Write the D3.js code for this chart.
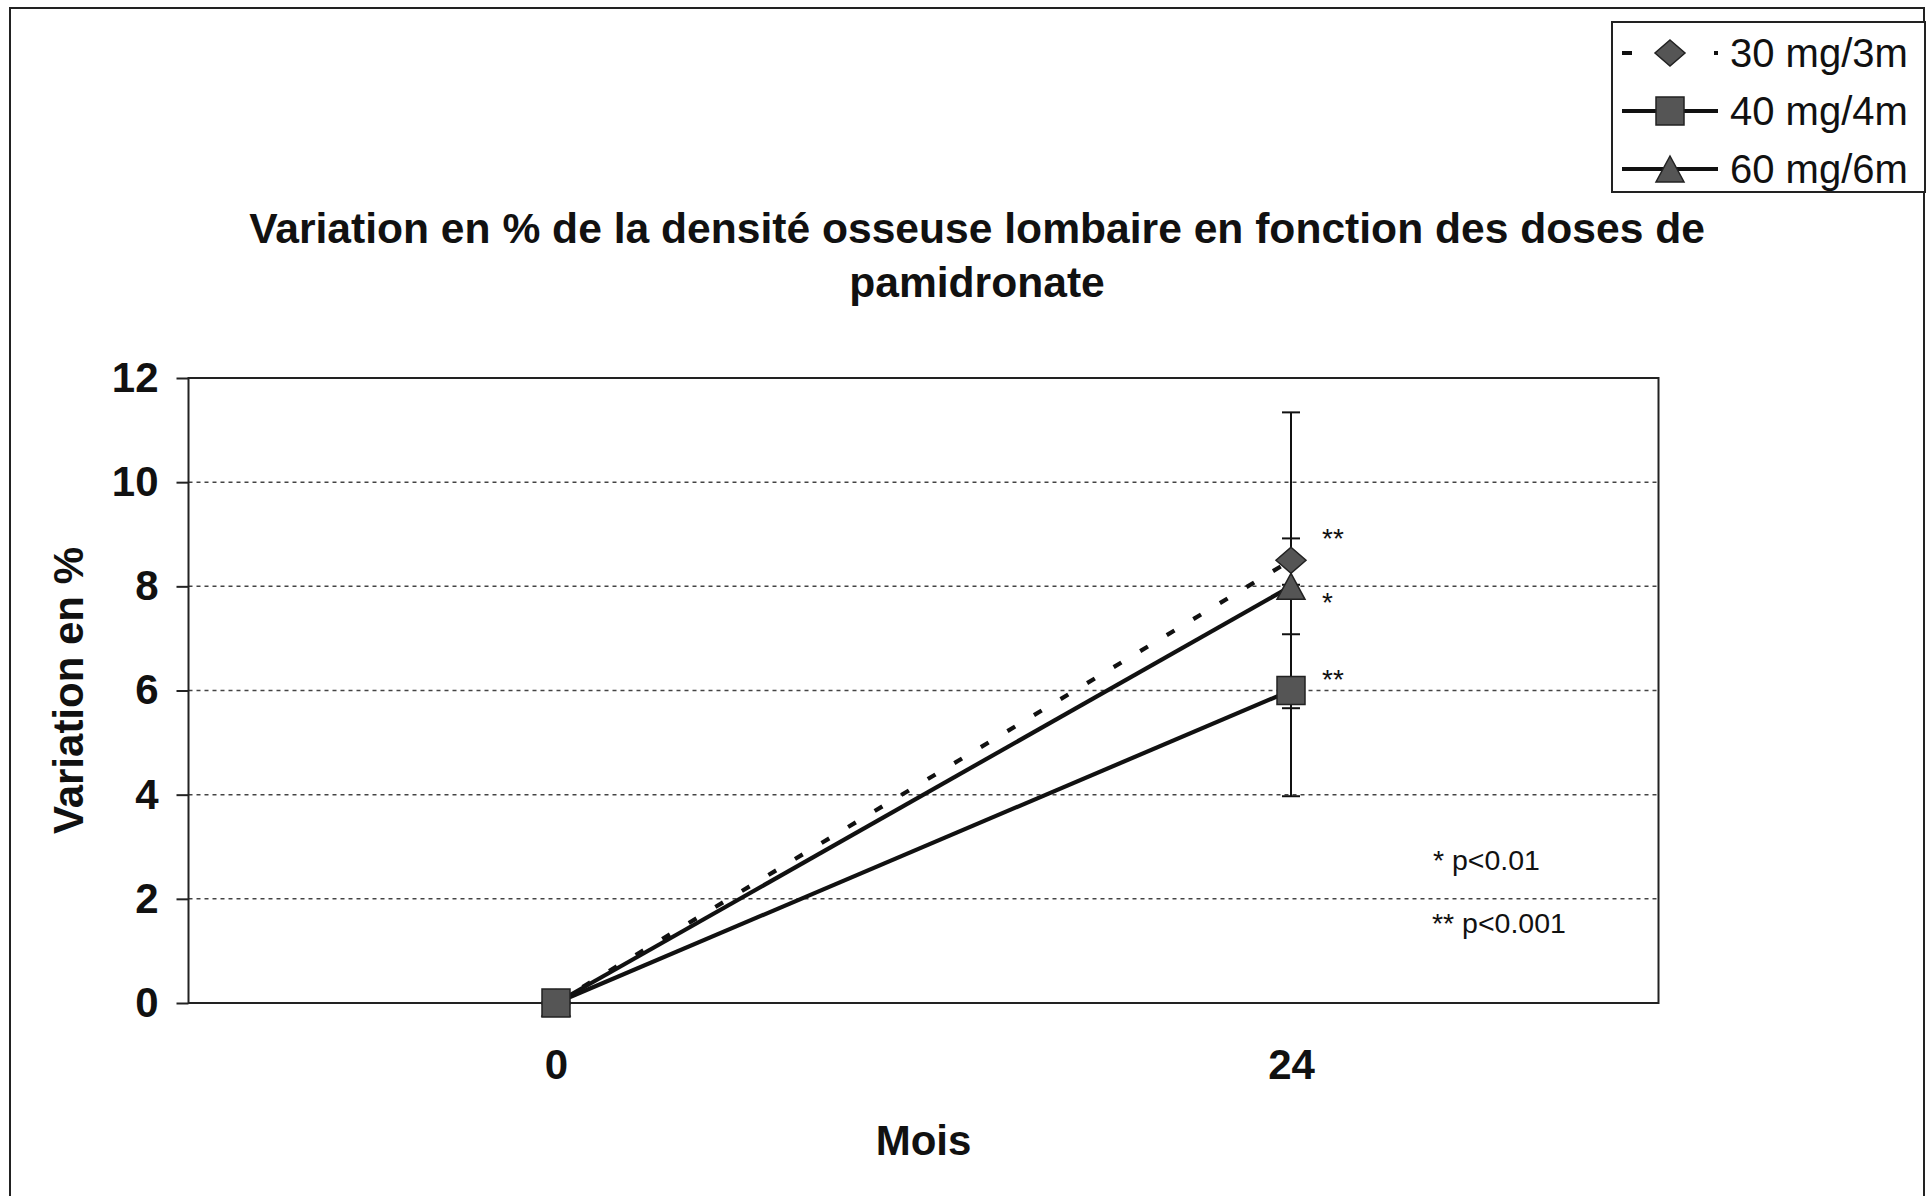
<!DOCTYPE html>
<html>
<head>
    <meta charset="utf-8" />
    <title>Variation densité osseuse</title>
    <style>
        body { margin: 0; background: #fff; overflow: hidden; }
        text { font-family: Arial, "Liberation Sans", sans-serif; fill: #111; }
    </style>
</head>
<body>
    <div id="chart"></div>
    <script src="https://cdn.jsdelivr.net/npm/d3@7/dist/d3.min.js"></script>
    <script>
        // données
        var mois = [0, 24];
        var series = ["30 mg/3m", "40 mg/4m", "60 mg/6m"];
        var v30 = [0, 8.5];
        var v40 = [0, 6.0];
        var v60 = [0, 8.0];
        var err30 = [0, 2.84];
        var err40 = [0, 2.03];
        var err60 = [0, 0.92];
        var yTicks = [0, 2, 4, 6, 8, 10, 12];
        var signif = ["**", "**", "*"];
        var sigVals = [8.74, 6.03, 7.51];
        var notes = ["* p<0.01", "** p<0.001"];

        var W = 1932, H = 1196;
        var pLeft = 188.5, pRight = 1658.5, pTop = 378, pBottom = 1003;

        var svg = d3.select("#chart").append("svg")
            .attr("width", W).attr("height", H);

        // cadre extérieur
        svg.append("rect")
            .attr("x", 10).attr("y", 8)
            .attr("width", 1914).attr("height", 1200)
            .attr("fill", "none").attr("stroke", "#222").attr("stroke-width", 2);

        var x = d3.scalePoint().domain(mois).range([pLeft, pRight]).padding(0.5);
        var y = d3.scaleLinear().domain([0, 12]).range([pBottom, pTop]);

        // grille pointillée
        svg.append("g").selectAll("line")
            .data(yTicks.filter(function (d) { return d > 0 && d < 12; }))
            .join("line")
            .attr("x1", pLeft).attr("x2", pRight)
            .attr("y1", function (d) { return y(d); })
            .attr("y2", function (d) { return y(d); })
            .attr("stroke", "#444").attr("stroke-width", 1.5)
            .attr("stroke-dasharray", "4,4");

        // cadre du graphique
        svg.append("rect")
            .attr("x", pLeft).attr("y", pTop)
            .attr("width", pRight - pLeft).attr("height", pBottom - pTop)
            .attr("fill", "none").attr("stroke", "#222").attr("stroke-width", 2);

        // axe Y
        var yAxis = svg.append("g")
            .attr("transform", "translate(" + pLeft + ",0)")
            .call(d3.axisLeft(y).tickValues(yTicks).tickSize(12).tickPadding(18));
        yAxis.select(".domain").remove();
        yAxis.selectAll("line").attr("stroke", "#222").attr("stroke-width", 2);
        yAxis.selectAll("text")
            .style("font-family", "Arial, 'Liberation Sans', sans-serif")
            .style("font-size", "42px").style("font-weight", "bold").attr("fill", "#111");

        // axe X
        var xAxis = svg.append("g")
            .attr("transform", "translate(0," + pBottom + ")")
            .call(d3.axisBottom(x).tickSize(0).tickPadding(46));
        xAxis.select(".domain").remove();
        xAxis.selectAll("text")
            .style("font-family", "Arial, 'Liberation Sans', sans-serif")
            .style("font-size", "42px").style("font-weight", "bold").attr("fill", "#111");

        // titres
        svg.append("text").attr("x", 977).attr("y", 243)
            .attr("text-anchor", "middle").style("font-size", "42.6px").style("font-weight", "bold")
            .text("Variation en % de la densité osseuse lombaire en fonction des doses de");
        svg.append("text").attr("x", 977).attr("y", 297)
            .attr("text-anchor", "middle").style("font-size", "42.6px").style("font-weight", "bold")
            .text("pamidronate");
        svg.append("text").attr("x", (pLeft + pRight) / 2).attr("y", 1155)
            .attr("text-anchor", "middle").style("font-size", "42px").style("font-weight", "bold")
            .text("Mois");
        svg.append("text")
            .attr("transform", "translate(83," + ((pTop + pBottom) / 2) + ") rotate(-90)")
            .attr("text-anchor", "middle").style("font-size", "42px").style("font-weight", "bold")
            .text("Variation en %");

        var data = [
            { name: series[0], vals: v30, err: err30, dash: "9,22", sym: "diamond" },
            { name: series[1], vals: v40, err: err40, dash: null, sym: "square" },
            { name: series[2], vals: v60, err: err60, dash: null, sym: "triangle" }
        ];

        // formes des marqueurs
        function symbolPath(sym) {
            if (sym === "square") return "M-14,-14H14V14H-14Z";
            if (sym === "triangle") return "M0,-13L14,13H-14Z";
            return "M0,-13L15,0L0,13L-15,0Z";
        }

        var line = d3.line()
            .x(function (d, i) { return x(mois[i]); })
            .y(function (d) { return y(d); });

        // lignes
        data.forEach(function (s) {
            svg.append("path")
                .attr("d", line(s.vals))
                .attr("fill", "none").attr("stroke", "#111").attr("stroke-width", 4.2)
                .attr("stroke-dasharray", s.dash);
        });

        // barres d'erreur
        data.forEach(function (s) {
            var g = svg.append("g").attr("stroke", "#111").attr("stroke-width", 2);
            s.vals.forEach(function (v, i) {
                if (!s.err[i]) return;
                var cx = x(mois[i]);
                g.append("line").attr("x1", cx).attr("x2", cx)
                    .attr("y1", y(v + s.err[i])).attr("y2", y(v - s.err[i]));
                [v + s.err[i], v - s.err[i]].forEach(function (e) {
                    g.append("line").attr("x1", cx - 9).attr("x2", cx + 9)
                        .attr("y1", y(e)).attr("y2", y(e));
                });
            });
        });

        // marqueurs (le carré dessus, comme sur l'original)
        [data[0], data[2], data[1]].forEach(function (s) {
            svg.append("g").selectAll("path")
                .data(s.vals)
                .join("path")
                .attr("d", symbolPath(s.sym))
                .attr("transform", function (d, i) {
                    return "translate(" + x(mois[i]) + "," + y(d) + ")";
                })
                .attr("fill", "#555").attr("stroke", "#222").attr("stroke-width", 1.5);
        });

        // significativité
        data.forEach(function (s, k) {
            svg.append("text")
                .attr("x", x(24) + 31).attr("y", y(sigVals[k]))
                .style("font-size", "28px")
                .text(signif[k]);
        });
        svg.append("text").attr("x", x(24) + 142).attr("y", y(2.55))
            .style("font-size", "28.5px").text(notes[0]);
        svg.append("text").attr("x", x(24) + 141).attr("y", y(1.34))
            .style("font-size", "28.5px").text(notes[1]);

        // légende
        var leg = svg.append("g");
        leg.append("rect").attr("x", 1612).attr("y", 22)
            .attr("width", 313).attr("height", 170)
            .attr("fill", "#fff").attr("stroke", "#222").attr("stroke-width", 2);
        data.forEach(function (s, k) {
            var cy = 53 + k * 58;
            leg.append("line").attr("x1", 1622).attr("x2", 1718)
                .attr("y1", cy).attr("y2", cy)
                .attr("stroke", "#111").attr("stroke-width", 4)
                .attr("stroke-dasharray", s.dash ? "10,82,4,20" : null);
            leg.append("path").attr("d", symbolPath(s.sym))
                .attr("transform", "translate(1670," + cy + ")")
                .attr("fill", "#555").attr("stroke", "#222").attr("stroke-width", 1.5);
            leg.append("text").attr("x", 1730).attr("y", cy + 14)
                .style("font-size", "40px").text(s.name);
        });
    </script>
</body>
</html>
